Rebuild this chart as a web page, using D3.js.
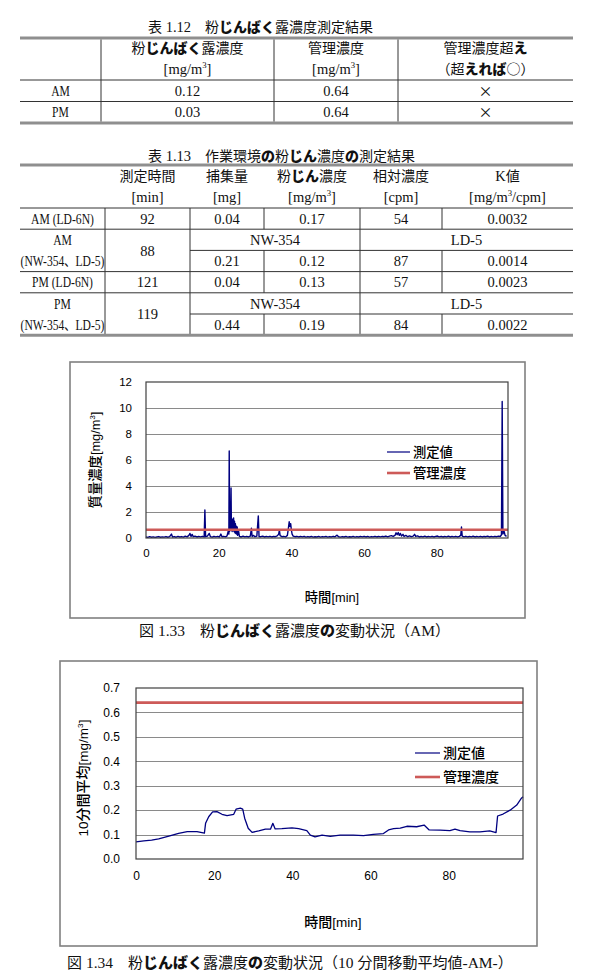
<!DOCTYPE html>
<html lang="ja">
<head>
<meta charset="UTF-8">
<style>
  body { margin: 0; background: #fff; overflow: hidden; }
  svg { display: block; }
</style>
</head>
<body>
<script src="https://cdn.jsdelivr.net/npm/d3@7"></script>
<script>
// ---- table 1.12 ----
var t112Title = "表 1.12　粉じんばく露濃度測定結果";
var t112Head = [["", ""], ["粉じんばく露濃度", "[mg/m^3]"], ["管理濃度", "[mg/m^3]"], ["管理濃度超え", "（超えれば○）"]];
var t112Rows = [["AM", "0.12", "0.64", "×"], ["PM", "0.03", "0.64", "×"]];

// ---- table 1.13 ----
var t113Title = "表 1.13　作業環境の粉じん濃度の測定結果";
var t113Head = [["", ""], ["測定時間", "[min]"], ["捕集量", "[mg]"], ["粉じん濃度", "[mg/m^3]"], ["相対濃度", "[cpm]"], ["K値", "[mg/m^3/cpm]"]];
var t113Rows = [
  ["AM (LD-6N)", "92", "0.04", "0.17", "54", "0.0032"],
  ["AM|(NW-354、LD-5)", "88", "0.21", "0.12", "87", "0.0014"],
  ["PM (LD-6N)", "121", "0.04", "0.13", "57", "0.0023"],
  ["PM|(NW-354、LD-5)", "119", "0.44", "0.19", "84", "0.0022"]
];
var t113Instruments = ["NW-354", "LD-5"];

// ---- charts ----
var legendLabels = ["測定値", "管理濃度"];
var limitValue = 0.64;
var xTicks = [0, 20, 40, 60, 80];
var amTicks = [0, 2, 4, 6, 8, 10, 12];
var avgTicks = [0, 0.1, 0.2, 0.3, 0.4, 0.5, 0.6, 0.7];

// [min, mg/m3]
var amReadings = [
  [0,0.08],[0.5,0.05],[1,0.1],[1.5,0.06],[2,0.09],[2.5,0.05],[3,0.08],[3.5,0.11],[4,0.06],[4.5,0.09],
  [5,0.07],[5.5,0.11],[6,0.06],[6.5,0.1],[7,0.3],[7.3,0.08],[7.8,0.11],[8.3,0.06],[8.8,0.12],[9.3,0.08],
  [9.8,0.11],[10.3,0.07],[10.8,0.14],[11.3,0.09],[11.8,0.2],[12.1,0.35],[12.4,0.12],[12.7,0.28],[13,0.1],[13.5,0.14],
  [14,0.08],[14.5,0.12],[15,0.09],[15.5,0.13],[16,0.08],[16.2,2.15],[16.4,0.1],[16.9,0.14],[17.4,0.35],[17.7,0.11],
  [18.2,0.07],[18.7,0.13],[19.2,0.09],[19.7,0.12],[20.2,0.08],[20.6,0.3],[20.9,0.1],[21.4,0.13],[21.9,0.09],[22.3,0.16],
  [22.6,0.5],[22.8,0.3],[22.9,6.7],[23.0,0.5],[23.15,1.3],[23.25,0.6],[23.4,3.85],[23.5,0.7],[23.6,1.5],[23.7,0.5],
  [23.85,1.4],[23.95,0.6],[24.1,1.55],[24.2,0.5],[24.35,1.3],[24.45,0.4],[24.6,1.1],[24.7,0.35],[24.85,0.9],[24.95,0.3],
  [25.1,0.85],[25.2,0.2],[25.5,0.5],[25.7,0.12],[26.2,0.08],[26.7,0.14],[27.2,0.09],[27.7,0.12],[28.2,0.08],[28.7,0.15],
  [29,0.75],[29.2,0.12],[29.6,0.2],[30,0.1],[30.5,0.15],[30.9,1.7],[31.1,0.12],[31.6,0.1],[32.1,0.14],[32.6,0.08],
  [33.1,0.12],[33.6,0.09],[34.1,0.13],[34.6,0.08],[35.1,0.12],[35.6,0.1],[36.1,0.16],[36.5,0.3],[36.7,0.6],[36.9,0.18],
  [37.4,0.1],[37.9,0.13],[38.4,0.08],[38.9,0.2],[39.2,0.8],[39.4,1.25],[39.6,0.9],[39.8,1.1],[40.0,0.6],[40.2,0.3],
  [40.5,0.15],[41,0.1],[41.5,0.13],[42,0.08],[42.5,0.12],[43,0.09],[43.5,0.13],[44,0.07],[44.5,0.11],[45,0.08],
  [45.5,0.12],[46,0.07],[46.5,0.1],[47,0.08],[47.5,0.12],[48,0.07],[48.5,0.11],[49,0.09],[49.5,0.12],[50,0.07],
  [50.5,0.11],[51,0.08],[51.5,0.13],[52,0.09],[52.5,0.22],[53,0.1],[53.5,0.07],[54,0.11],[54.5,0.08],[55,0.12],
  [55.5,0.07],[56,0.1],[56.5,0.08],[57,0.12],[57.5,0.07],[58,0.11],[58.5,0.08],[59,0.12],[59.5,0.09],[60,0.13],
  [60.5,0.08],[61,0.12],[61.5,0.07],[62,0.11],[62.5,0.09],[63,0.13],[63.5,0.08],[64,0.12],[64.5,0.09],[65,0.13],
  [65.5,0.1],[66,0.15],[66.5,0.09],[67,0.14],[67.5,0.18],[68,0.12],[68.5,0.2],[68.8,0.4],[69.1,0.25],[69.4,0.42],
  [69.7,0.2],[70,0.35],[70.3,0.15],[70.7,0.28],[71,0.12],[71.5,0.2],[72,0.1],[72.5,0.16],[73,0.1],[73.5,0.14],
  [73.9,0.28],[74.2,0.12],[74.7,0.16],[75.2,0.08],[75.7,0.12],[76.2,0.09],[76.7,0.14],[77.2,0.08],[77.7,0.12],[78.2,0.09],
  [78.7,0.13],[79.2,0.08],[79.7,0.12],[80.2,0.15],[80.7,0.09],[81.2,0.13],[81.7,0.08],[82.2,0.12],[82.7,0.09],[83.2,0.14],
  [83.7,0.08],[84.2,0.12],[84.7,0.09],[85.2,0.13],[85.7,0.08],[86.2,0.12],[86.6,0.2],[86.8,0.85],[87,0.15],[87.5,0.09],
  [88,0.13],[88.5,0.08],[89,0.12],[89.5,0.09],[90,0.14],[90.5,0.08],[91,0.12],[91.5,0.09],[92,0.13],[92.5,0.08],
  [93,0.12],[93.5,0.1],[94,0.14],[94.5,0.08],[95,0.12],[95.5,0.09],[96,0.13],[96.5,0.1],[97,0.14],[97.5,0.12],
  [97.8,0.25],[98,10.5],[98.2,0.3],[98.5,0.55],[98.8,0.2],[99.2,0.12]
];

// [min, mg/m3] 10-min moving average, fig 1.34
var avgReadings = [
  [0,0.07],[2,0.074],[4,0.077],[5.8,0.082],[8.4,0.094],[10.9,0.105],[13.1,0.112],[15.6,0.112],[17.5,0.106],[17.8,0.146],
  [18.6,0.173],[19.6,0.193],[20.7,0.194],[22,0.183],[23.3,0.178],[25,0.183],[25.6,0.204],[26.7,0.208],[27.3,0.204],[27.8,0.167],
  [28.7,0.126],[29.7,0.109],[31.4,0.115],[33.1,0.122],[34.4,0.122],[35,0.146],[35.6,0.123],[37.3,0.124],[39.9,0.127],[41.6,0.124],
  [43.7,0.116],[44.6,0.098],[45.8,0.091],[47.6,0.098],[49.7,0.093],[52.2,0.098],[55.6,0.098],[58.2,0.096],[60.7,0.101],[63.3,0.104],
  [64.6,0.119],[65.9,0.124],[67.6,0.126],[69.3,0.134],[71.8,0.132],[73.7,0.139],[75,0.119],[77.8,0.118],[80.3,0.116],[81.6,0.122],
  [82.9,0.116],[85.4,0.111],[88,0.111],[90.5,0.115],[92.1,0.108],[92.5,0.176],[93.9,0.184],[95.7,0.2],[97.4,0.221],[98.6,0.249],[99,0.255]
];

var cap133 = "図 1.33　粉じんばく露濃度の変動状況（AM）";
var cap134 = "図 1.34　粉じんばく露濃度の変動状況（10 分間移動平均値-AM-）";

var JP = '"Noto Sans CJK JP", sans-serif';
var SERIF = '"Liberation Serif", serif';
var SANS = '"Liberation Sans", Arial, sans-serif';

var svg = d3.select("body").append("svg").attr("width", 598).attr("height", 976);

// writes str into a <text>: kana heavy gothic, latin in its own face, ^x superscript
function rich(sel, str, o) {
  var runs = [];
  for (var i = 0; i < str.length; i++) {
    var ch = str[i], k;
    if (ch === "^") { runs.push({t: str[i + 1], k: "sup"}); i++; continue; }
    if (/[\u3041-\u309f]/.test(ch)) k = "kana";
    else if (ch.charCodeAt(0) < 0x00c0) k = "lat";
    else k = "cjk";
    var last = runs[runs.length - 1];
    if (last && last.k === k) last.t += ch; else runs.push({t: ch, k: k});
  }
  var up = 0;
  runs.forEach(function (r) {
    var ts = sel.append("tspan").text(r.t);
    if (r.k === "sup") {
      ts.attr("font-family", o.latin).attr("font-size", o.lat * 0.6).attr("dy", -o.lat * 0.42);
      up = o.lat * 0.42;
      return;
    }
    if (up) { ts.attr("dy", up); up = 0; }
    if (r.k === "lat") ts.attr("font-family", o.latin).attr("font-size", o.lat);
    else if (r.k === "kana") ts.attr("font-family", JP).attr("font-size", o.jp).attr("font-weight", 900);
    else ts.attr("font-family", JP).attr("font-size", o.jp);
  });
  return sel;
}

var TBL = {jp: 14, lat: 14.5, latin: SERIF};
var CAP = {jp: 15, lat: 15.5, latin: SERIF};

// sx < 1 squeezes the text horizontally (half-width look of the first column)
function label(x, cy, str, anchor, o, sx) {
  o = o || TBL;
  var t = svg.append("text").attr("text-anchor", anchor || "middle").attr("fill", "#111");
  if (sx) t.attr("transform", "translate(" + x + "," + (cy + o.jp * 0.37) + ") scale(" + sx + ",1)");
  else t.attr("x", x).attr("y", cy + o.jp * 0.37);
  return rich(t, str, o);
}

function hline(x1, x2, y, thick) {
  svg.append("line").attr("x1", x1).attr("x2", x2).attr("y1", y).attr("y2", y)
    .attr("stroke", thick ? "#8f8f8f" : "#333").attr("stroke-width", thick ? 3 : 1);
}
function vline(x, y1, y2) {
  svg.append("line").attr("x1", x).attr("x2", x).attr("y1", y1).attr("y2", y2)
    .attr("stroke", "#333").attr("stroke-width", 1);
}

// ---------- table 1.12 ----------
(function () {
  var cols = [20, 101, 274, 398, 573];
  var top = 38, headBottom = 80, rowH = 21.5;
  label(148, 27, t112Title, "start");
  var bottom = headBottom + rowH * t112Rows.length;
  hline(cols[0], cols[4], top, true);
  hline(cols[0], cols[4], headBottom);
  t112Rows.forEach(function (r, i) { if (i) hline(cols[0], cols[4], headBottom + rowH * i); });
  hline(cols[0], cols[4], bottom, true);
  cols.slice(1, -1).forEach(function (c) { vline(c, top + 1.5, bottom - 1.5); });
  t112Head.forEach(function (h, i) {
    var cx = (cols[i] + cols[i + 1]) / 2;
    label(cx, 48, h[0]);
    label(cx, 69, h[1]);
  });
  t112Rows.forEach(function (r, ri) {
    var cy = headBottom + rowH * ri + rowH / 2;
    r.forEach(function (v, ci) { label((cols[ci] + cols[ci + 1]) / 2, cy, v, "middle", TBL, ci ? 0 : 0.8); });
  });
})();

// ---------- table 1.13 ----------
(function () {
  var cols = [20, 105, 190, 264, 360, 442, 573];
  var top = 165, headBottom = 208, rowH = 21.2;
  label(148, 156, t113Title, "start");
  t113Head.forEach(function (h, i) {
    var cx = (cols[i] + cols[i + 1]) / 2;
    label(cx, 176, h[0]);
    label(cx, 197, h[1]);
  });
  hline(cols[0], cols[6], top, true);
  hline(cols[0], cols[6], headBottom);
  var y = headBottom;
  var cx = function (i) { return (cols[i] + cols[i + 1]) / 2; };
  t113Rows.forEach(function (r, ri) {
    var split = r[0].indexOf("|") >= 0;
    if (!split) {
      r.forEach(function (v, ci) { label(cx(ci), y + rowH / 2, v, "middle", TBL, ci ? 0 : 0.8); });
      cols.slice(1, -1).forEach(function (c) { vline(c, y, y + rowH); });
      y += rowH;
    } else {
      var parts = r[0].split("|");
      label(cx(0), y + rowH / 2, parts[0], "middle", TBL, 0.8);
      label(cx(0), y + rowH * 1.5, parts[1], "middle", TBL, 0.8);
      label(cx(1), y + rowH, r[1]);
      label((cols[2] + cols[4]) / 2, y + rowH / 2, t113Instruments[0]);
      label((cols[4] + cols[6]) / 2, y + rowH / 2, t113Instruments[1]);
      hline(cols[2], cols[6], y + rowH);
      r.slice(2).forEach(function (v, k) { label(cx(k + 2), y + rowH * 1.5, v); });
      [1, 2, 4].forEach(function (k) { vline(cols[k], y, y + 2 * rowH); });
      [3, 5].forEach(function (k) { vline(cols[k], y + rowH, y + 2 * rowH); });
      y += 2 * rowH;
    }
    hline(cols[0], cols[6], y, ri === t113Rows.length - 1);
  });
})();

// ---------- charts ----------
function drawChart(c) {
  var g = svg.append("g");
  var txt = {jp: c.txt, lat: c.txt - 0.5, latin: SANS};
  g.append("rect").attr("x", c.frame[0]).attr("y", c.frame[1]).attr("width", c.frame[2]).attr("height", c.frame[3])
    .attr("fill", "#fff").attr("stroke", "#808080").attr("stroke-width", 1.6);
  var x = d3.scaleLinear().domain([0, c.xMax]).range([c.plot.l, c.plot.r]);
  var y = d3.scaleLinear().domain([0, c.yMax]).range([c.plot.b, c.plot.t]);

  g.selectAll("line.grid").data(c.yTicks.filter(function (d) { return d > 0 && d < c.yMax - 1e-9; }))
    .enter().append("line").attr("class", "grid")
    .attr("x1", c.plot.l).attr("x2", c.plot.r)
    .attr("y1", function (d) { return Math.round(y(d)) + 0.5; }).attr("y2", function (d) { return Math.round(y(d)) + 0.5; })
    .attr("stroke", "#8a8a8a").attr("stroke-width", 1);

  var ya = g.append("g").attr("transform", "translate(" + c.plot.l + ",0)")
    .call(d3.axisLeft(y).tickValues(c.yTicks).tickFormat(c.yFmt).tickSize(0).tickPadding(c.yPad));
  var xa = g.append("g").attr("transform", "translate(0," + c.plot.b + ")")
    .call(d3.axisBottom(x).tickValues(xTicks).tickFormat(d3.format("d")).tickSize(0).tickPadding(c.xPad));
  [ya, xa].forEach(function (a) {
    a.select(".domain").remove();
    a.attr("font-family", SANS).attr("font-size", c.tick);
    a.selectAll("text").attr("fill", "#000");
  });

  var line = d3.line().x(function (d) { return x(d[0]); }).y(function (d) { return y(d[1]); });
  g.append("path").datum(c.data).attr("d", line).attr("fill", "none")
    .attr("stroke", "#000080").attr("stroke-width", c.lw).attr("stroke-linejoin", "round");
  g.append("line").attr("x1", x(0)).attr("x2", x(c.xMax)).attr("y1", y(limitValue)).attr("y2", y(limitValue))
    .attr("stroke", "#cd5a58").attr("stroke-width", 2.6);

  g.append("rect").attr("x", c.plot.l).attr("y", c.plot.t)
    .attr("width", c.plot.r - c.plot.l).attr("height", c.plot.b - c.plot.t)
    .attr("fill", "none").attr("stroke", "#404040").attr("stroke-width", 1.2);

  // legend
  var colors = ["#000080", "#cd5a58"], widths = [1.2, 2.6];
  legendLabels.forEach(function (s, i) {
    var ly = c.legend[1] + i * c.legend[3];
    g.append("line").attr("x1", c.legend[0]).attr("x2", c.legend[0] + c.legend[2]).attr("y1", ly).attr("y2", ly)
      .attr("stroke", colors[i]).attr("stroke-width", widths[i]);
    var t = g.append("text").attr("x", c.legend[0] + c.legend[2] + 3).attr("y", ly + c.txt * 0.37)
      .attr("fill", "#000").attr("font-weight", 500);
    rich(t, s, txt);
  });

  // axis titles
  var xt = g.append("text").attr("x", c.xTitle[0]).attr("y", c.xTitle[1] + c.txt * 0.37).attr("text-anchor", "middle")
    .attr("font-weight", 500).attr("fill", "#000");
  rich(xt, "時間[min]", txt);
  var yt = g.append("text").attr("transform", "translate(" + (c.yTitle[0] + c.txt * 0.37) + "," + c.yTitle[1] + ") rotate(-90)")
    .attr("text-anchor", "middle").attr("font-weight", 500).attr("fill", "#000");
  rich(yt, c.yLabel, txt);
}

drawChart({
  frame: [70, 362, 455, 256],
  plot: {l: 146, r: 508, t: 382, b: 538},
  xMax: 99.6, yMax: 12, yTicks: amTicks, yFmt: d3.format("d"),
  yPad: 14, xPad: 11, tick: 11.5, txt: 13.3, lw: 1.4,
  data: amReadings,
  legend: [387, 452, 23, 21],
  xTitle: [332, 597], yTitle: [95, 460], yLabel: "質量濃度[mg/m^3]"
});
label(139, 630, cap133, "start", CAP);

drawChart({
  frame: [60, 661, 477, 285],
  plot: {l: 136, r: 523, t: 688, b: 859},
  xMax: 99, yMax: 0.7, yTicks: avgTicks, yFmt: d3.format(".1f"),
  yPad: 16, xPad: 12, tick: 12, txt: 14, lw: 1.3,
  data: avgReadings,
  legend: [415, 753, 25, 24],
  xTitle: [333, 922], yTitle: [83, 778], yLabel: "10分間平均[mg/m^3]"
});
label(67, 962, cap134, "start", CAP);
</script>
</body>
</html>
